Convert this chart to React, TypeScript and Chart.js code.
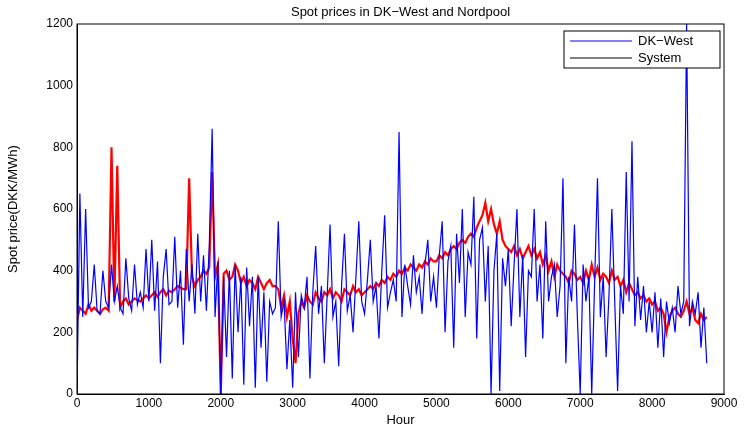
import React, { useEffect, useRef } from "react";
import { Chart, registerables } from "chart.js";
Chart.register(...registerables);

const STEP = 40;
const dkWest = [
0,650,250,600,280,300,420,270,260,400,300,280,420,300,350,280,260,440,310,270,420,290,330,280,470,
300,500,270,430,100,380,470,290,300,510,280,400,160,470,300,420,260,520,300,450,270,480,860,250,430,
0,380,120,400,50,420,200,380,30,410,220,380,20,380,150,330,40,300,260,280,560,250,300,80,240,
20,330,120,320,280,380,50,330,480,260,350,100,320,550,250,300,90,350,520,270,320,200,380,560,300,
260,370,500,300,350,180,400,580,280,330,370,300,850,250,420,350,290,450,330,380,260,420,500,300,380,
280,450,560,200,430,480,150,520,360,600,250,460,420,640,180,500,540,300,480,0,400,520,10,440,350,
470,220,420,600,250,450,120,400,380,600,300,420,180,560,300,380,420,250,350,700,100,380,300,550,250,
0,420,300,380,0,360,700,250,380,120,320,600,300,10,350,260,720,300,820,220,380,240,350,200,300,
200,330,150,310,120,300,230,280,200,350,260,300,1200,220,300,260,330,150,280,100];
const system = [
240,280,270,260,290,270,280,270,260,275,280,270,800,300,740,280,300,310,290,300,310,305,300,310,320,
310,320,330,315,330,340,320,335,330,340,350,345,340,340,700,380,350,370,380,400,390,410,720,380,420,
0,390,400,370,380,420,400,360,380,350,370,360,340,380,360,340,360,370,350,350,340,280,320,250,300,
180,100,260,300,280,320,300,290,330,310,300,330,320,340,310,330,320,300,340,330,320,350,330,340,320,
330,340,350,340,360,350,370,360,380,370,390,380,400,390,410,400,420,410,400,420,410,430,420,440,430,
430,450,440,460,450,470,480,470,490,500,490,510,520,510,540,560,580,620,560,600,550,520,560,500,480,
470,460,480,450,470,440,460,480,450,470,440,460,420,450,400,430,380,420,400,390,380,360,400,390,370,
380,360,400,370,420,380,410,370,390,380,360,400,370,380,350,370,330,360,340,320,330,310,320,300,310,
290,300,270,280,260,200,250,270,280,260,250,270,300,260,280,240,230,260,240,250];
const legendLabels = ["DK\u2212West", "System"];
const FONT = "'Liberation Sans', Arial, sans-serif";

export default function App() {
  const ref = useRef<HTMLCanvasElement>(null);
  useEffect(() => {
    document.body.style.margin = "0";
    const toPts = (a: number[]) => a.map((y, i) => ({ x: i * STEP, y }));
    const deco = {
      id: "deco",
      afterDraw(c: any) {
        const { ctx, chartArea: a } = c;
        ctx.save();
        ctx.strokeStyle = "#000"; ctx.lineWidth = 1;
        ctx.strokeRect(a.left, a.top, a.right - a.left, a.bottom - a.top);
        ctx.fillStyle = "#000"; ctx.font = `13px ${FONT}`; ctx.textAlign = "center"; ctx.textBaseline = "middle";
        ctx.fillText("Spot prices in DK\u2212West and Nordpool", (a.left + a.right) / 2, 12);
        const bx = 564, by = 31, bw = 156, bh = 37;
        ctx.fillStyle = "#fff"; ctx.fillRect(bx, by, bw, bh); ctx.strokeRect(bx, by, bw, bh);
        ctx.strokeStyle = "#0000ff"; ctx.beginPath(); ctx.moveTo(570, 41); ctx.lineTo(632, 41); ctx.stroke();
        ctx.strokeStyle = "#000"; ctx.beginPath(); ctx.moveTo(570, 58); ctx.lineTo(632, 58); ctx.stroke();
        ctx.fillStyle = "#000"; ctx.textAlign = "left"; ctx.font = `13px ${FONT}`;
        ctx.fillText(legendLabels[0], 638, 41); ctx.fillText(legendLabels[1], 638, 58);
        ctx.restore();
      },
    };
    const fmt = (v: any) => String(v);
    const chart = new Chart(ref.current!, {
      type: "line",
      data: {
        datasets: [
          { data: toPts(dkWest), borderColor: "#0000ff", borderWidth: 1.2, pointRadius: 0, tension: 0 },
          { data: toPts(system), borderColor: "#ff0000", borderWidth: 2.2, pointRadius: 0, tension: 0 },
        ],
      },
      options: {
        animation: false, responsive: false,
        layout: { padding: { top: 24, right: 20, left: 0, bottom: 0 } },
        plugins: { legend: { display: false }, tooltip: { enabled: false } },
        scales: {
          x: {
            type: "linear", min: 0, max: 9000,
            ticks: { stepSize: 1000, color: "#000", font: { family: FONT, size: 12 }, padding: 2, callback: fmt },
            grid: { drawOnChartArea: false, drawTicks: false }, border: { color: "#000" },
            title: { display: true, text: "Hour", color: "#000", font: { family: FONT, size: 13 }, padding: 0 },
            afterFit: (s: any) => { s.height = 34; },
          },
          y: {
            min: 0, max: 1200,
            ticks: { stepSize: 200, color: "#000", font: { family: FONT, size: 12 }, padding: 4, callback: fmt },
            grid: { drawOnChartArea: false, drawTicks: false }, border: { color: "#000" },
            title: { display: true, text: "Spot price(DKK/MWh)", color: "#000", font: { family: FONT, size: 13 }, padding: 6 },
            afterFit: (s: any) => { s.width = 77; },
          },
        },
      },
      plugins: [deco],
    });
    return () => chart.destroy();
  }, []);
  return <canvas ref={ref} width={744} height={428} style={{ display: "block" }} />;
}
